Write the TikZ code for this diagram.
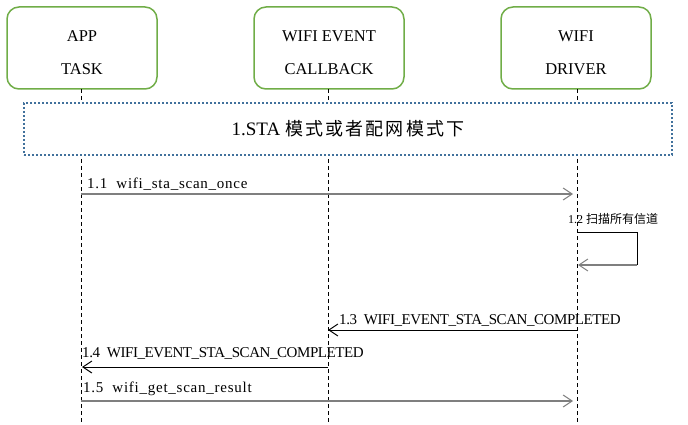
\documentclass[tikz,border=0pt]{standalone}
\usepackage{fontspec}
\setmainfont{Liberation Serif}
\newfontfamily\cjk{Noto Sans CJK SC}
\newfontfamily\cjkwide[LetterSpace=12]{Noto Sans CJK SC}
\newfontfamily\serifwide[LetterSpace=5]{Liberation Serif}
\newfontfamily\serifnarrow[LetterSpace=-2.8]{Liberation Serif}
\usetikzlibrary{arrows.meta}
\definecolor{boxgreen}{HTML}{70AD47}
\definecolor{dotblue}{HTML}{41719C}
\definecolor{msggray}{HTML}{7F7F7F}
\tikzset{
  actor/.style={draw=boxgreen, line width=1.5pt, rounded corners=12pt, fill=white,
    minimum width=150pt, minimum height=82pt, inner sep=0pt},
  actortext/.style={align=center, inner sep=0pt, font=\fontsize{16.5}{18}\selectfont},
  lifeline/.style={draw=black, line width=1pt, dash pattern=on 4pt off 3pt},
  phase/.style={draw=dotblue, line width=1.6pt, dash pattern=on 2pt off 2pt, fill=white},
  head/.style={-{Straight Barb[length=9pt,width=12pt,line width=1pt]}},
  callmsg/.style={head, draw=msggray, line width=2pt},
  retmsg/.style={head, draw=black, line width=1pt},
  msglabel/.style={anchor=base west, inner sep=0pt},
  lowlabel/.style={msglabel, font=\serifwide\fontsize{15}{18}\selectfont},
  caplabel/.style={msglabel, font=\serifnarrow\fontsize{15}{18}\selectfont},
}
\begin{document}
\begin{tikzpicture}[x=1pt, y=-1pt]
\useasboundingbox (0,0) rectangle (688,425);
% actors
\node[actor] (app) at (82,48) {};
\node[actor] (cb) at (329,48) {};
\node[actor] (drv) at (576,48) {};
\node[actortext] (apptxt) at ([yshift=-4.5pt]app.center) {APP\\[15pt]TASK};
\node[actortext] (cbtxt) at ([yshift=-4.5pt]cb.center) {WIFI EVENT\\[15pt]CALLBACK};
\node[actortext] (drvtxt) at ([yshift=-4.5pt]drv.center) {WIFI\\[15pt]DRIVER};
% lifeline ends
\coordinate (append) at (81,425);
\coordinate (cbend) at (328,425);
\coordinate (drvend) at (577,425);
\draw[lifeline] (81,89) -- (append);
\draw[lifeline] (328,89) -- (cbend);
\draw[lifeline] (577,89) -- (drvend);
% phase box
\node[phase, minimum width=648pt, minimum height=52pt, inner sep=0pt] (phase) at (348,129)
  {{\fontsize{19}{22}\selectfont 1.STA }{\cjkwide\fontsize{18}{22}\selectfont 模式或者配网模式下}};
% message anchors
\coordinate (a1) at (81,194);   \coordinate (d1) at (577,194);
\coordinate (d2a) at (577,232); \coordinate (l2a) at (637,232);
\coordinate (l2b) at (637,265); \coordinate (d2b) at (578,265);
\coordinate (d3) at (577,330);  \coordinate (c3) at (328,330);
\coordinate (c4) at (328,367);  \coordinate (a4) at (82,367);
\coordinate (a5) at (81,401);   \coordinate (d5) at (577,401);
% messages
\draw[callmsg, shorten >=4pt] (a1) -- (d1);
\node[lowlabel] (t1) at (87,188) {1.1~~wifi\_sta\_scan\_once};
\draw[black, line width=1pt] (d2a) -- (l2a) -- (l2b);
\draw[callmsg] (l2b) -- (d2b);
\node[anchor=base west, inner sep=0pt, font=\fontsize{12}{14}\selectfont] (t2) at (568,223) {1.2 {\cjk 扫描所有信道}};
\draw[retmsg] (d3) -- (c3);
\node[caplabel] (t3) at (339,324) {1.3~~WIFI\_EVENT\_STA\_SCAN\_COMPLETED};
\draw[retmsg] (c4) -- (a4);
\node[caplabel] (t4) at (82,357) {1.4~~WIFI\_EVENT\_STA\_SCAN\_COMPLETED};
\draw[callmsg, shorten >=4pt] (a5) -- (d5);
\node[lowlabel] (t5) at (83,392) {1.5~~wifi\_get\_scan\_result};
\end{tikzpicture}
\end{document}
